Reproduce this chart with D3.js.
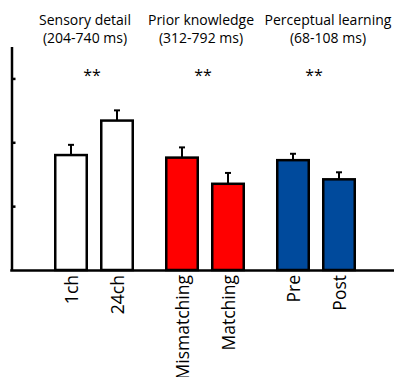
<!DOCTYPE html>
<html>
<head>
<meta charset="utf-8">
<script src="https://cdn.jsdelivr.net/npm/d3@7"></script>
<style>
  html, body { margin: 0; padding: 0; background: #fff; }
  svg { display: block; }
  text { font-family: "Open Sans", "Noto Sans", sans-serif; fill: #000; }
</style>
</head>
<body>
<svg id="chart" width="394" height="377"></svg>
<script>
// Effect groups and their time windows
const groups = ["Sensory detail", "Prior knowledge", "Perceptual learning"];
const windows = ["(204-740 ms)", "(312-792 ms)", "(68-108 ms)"];
const significance = ["**", "**", "**"];

// Conditions (two per group)
const conditions = ["1ch", "24ch", "Mismatching", "Matching", "Pre", "Post"];
const conditionGroup = ["Sensory detail", "Sensory detail", "Prior knowledge", "Prior knowledge", "Perceptual learning", "Perceptual learning"];
const means = [1.80, 2.34, 1.76, 1.35, 1.72, 1.42];
const sems  = [0.16, 0.16, 0.16, 0.17, 0.10, 0.11];
const fills = ["#ffffff", "#ffffff", "#ff0000", "#ff0000", "#004a9c", "#004a9c"];

const yTicks = [1, 2, 3];

const svg = d3.select("#chart");
const W = 394;
const baseY = 270;
const axisX = 11.5;
const stroke = 2.5;

// Scales
const y = d3.scaleLinear().domain([0, 3.5]).range([baseY, 46.5]);
const xGroup = d3.scaleBand().domain(groups).range([38.5, 371.5]);
const xInner = d3.scaleBand().domain([0, 1])
  .range([0, xGroup.bandwidth()]).paddingInner(0.261).paddingOuter(0.337);

const rows = conditions.map((c, i) => {
  const g = conditionGroup[i];
  const idx = conditionGroup.slice(0, i).filter(v => v === g).length;
  const x0 = xGroup(g) + xInner(idx);
  return { name: c, group: g, mean: means[i], sem: sems[i], fill: fills[i],
           x0: x0, w: xInner.bandwidth(), cx: x0 + xInner.bandwidth() / 2 };
});

// Bars
svg.append("g").selectAll("rect").data(rows).join("rect")
  .attr("x", d => d.x0 + stroke / 2)
  .attr("y", d => y(d.mean))
  .attr("width", d => d.w - stroke)
  .attr("height", d => y(0) - y(d.mean))
  .attr("fill", d => d.fill)
  .attr("stroke", "#000")
  .attr("stroke-width", stroke);

// Error bars (upper half)
const eb = svg.append("g").attr("stroke", "#000").attr("stroke-width", 2);
eb.selectAll("line.v").data(rows).join("line").attr("class", "v")
  .attr("x1", d => d.cx).attr("x2", d => d.cx)
  .attr("y1", d => y(d.mean)).attr("y2", d => y(d.mean + d.sem));
eb.selectAll("line.c").data(rows).join("line").attr("class", "c")
  .attr("x1", d => d.cx - 3).attr("x2", d => d.cx + 3)
  .attr("y1", d => y(d.mean + d.sem)).attr("y2", d => y(d.mean + d.sem));

// Y axis: bare line with inward ticks, no labels
const yAxis = svg.append("g")
  .attr("transform", `translate(${axisX},0)`)
  .call(d3.axisLeft(y).tickValues(yTicks).tickSize(-4).tickSizeOuter(0).tickFormat(""));
yAxis.select(".domain").attr("stroke", "#000").attr("stroke-width", 2.5);
yAxis.selectAll(".tick line").attr("stroke", "#000").attr("stroke-width", 2.5);

// Baseline
svg.append("line")
  .attr("x1", axisX - 1.25).attr("x2", W)
  .attr("y1", baseY + 0.5).attr("y2", baseY + 0.5)
  .attr("stroke", "#000").attr("stroke-width", 2.7);

// Condition labels, rotated
const xCond = d3.scaleOrdinal().domain(conditions).range(rows.map(d => d.cx));
const xAxis = svg.append("g")
  .attr("transform", `translate(0,${baseY + 5})`)
  .call(d3.axisBottom(xCond).tickSize(0).tickPadding(0));
xAxis.select(".domain").remove();
xAxis.selectAll(".tick text")
  .attr("transform", "rotate(-90)")
  .attr("text-anchor", "end")
  .attr("x", 0).attr("y", 0).attr("dy", "0.36em")
  .style("font-family", "'Open Sans', 'Noto Sans', sans-serif")
  .style("font-size", "17.5px")
  .attr("fill", "#000");

// Group headers
const headerShift = [-9, -4, 12];
const hdr = svg.append("g").attr("text-anchor", "middle").style("font-size", "14px");
groups.forEach((g, i) => {
  const cx = xGroup(g) + xGroup.bandwidth() / 2;
  hdr.append("text").attr("x", cx + headerShift[i]).attr("y", 25).text(g);
  hdr.append("text").attr("x", cx + headerShift[i]).attr("y", 43).text(windows[i]);
  svg.append("text").attr("x", cx - 2).attr("y", 81)
    .attr("text-anchor", "middle").style("font-size", "16px").text(significance[i]);
});
</script>
</body>
</html>
